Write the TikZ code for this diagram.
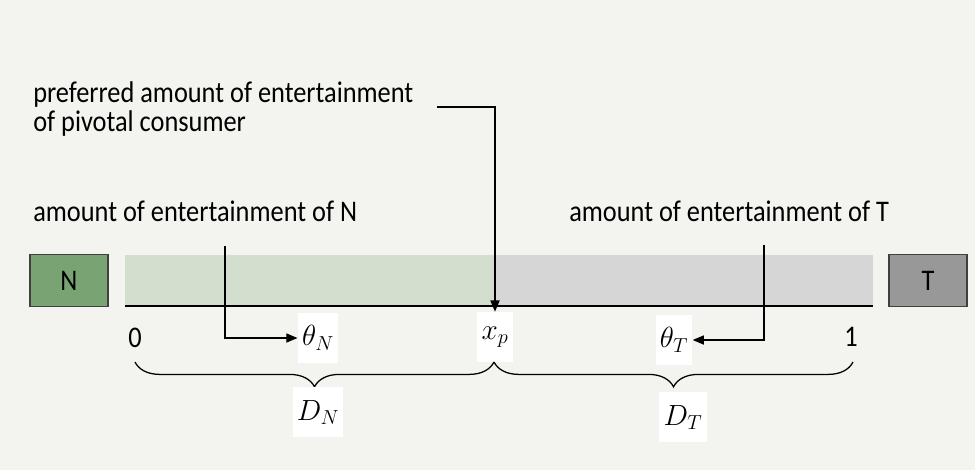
\documentclass[tikz,border=0pt]{standalone}
\usepackage{fontspec}
\setmainfont{Carlito}[FakeStretch=0.88]
\usetikzlibrary{arrows.meta,decorations.pathreplacing}
\definecolor{bgcol}{RGB}{243,243,239}
\definecolor{green1}{RGB}{122,163,115}
\definecolor{green2}{RGB}{211,222,207}
\definecolor{gray1}{RGB}{152,152,152}
\definecolor{gray2}{RGB}{214,214,214}

\begin{document}
\begin{tikzpicture}[x=0.025cm, y=-0.025cm,
  lbl/.style={font=\fontsize{21.3}{20.6}\selectfont, inner sep=0pt},
  sym/.style={font=\fontsize{20}{24}\selectfont, fill=white, inner xsep=3pt, minimum height=1.25cm},
  cbox/.style={draw=black!75, line width=0.8pt, minimum width=1.95cm, minimum height=1.3cm, font=\fontsize{21.3}{24}\selectfont},
  conn/.style={line width=0.9pt, -{Triangle[length=8pt,width=6.5pt]}},
  brc/.style={line width=0.9pt, decorate, decoration={brace, mirror, amplitude=0.62cm}}]
\fill[bgcol] (0,0) rectangle (975,470);
% the line of contents, N at the left end, T at the right end
\fill[green2] (125,255) rectangle (493,306);
\fill[gray2] (493,255) rectangle (873,306);
\draw[line width=1.1pt] (125,306) -- (873,306);
\node[cbox, fill=green1] (Nbox) at (69,280.5) {N};
\node[cbox, fill=gray1] (Tbox) at (928,280.5) {T};
% points on the line
\node[lbl, anchor=base] (zero) at (135,347) {0};
\node[lbl, anchor=base] (one) at (851,346) {1};
\node[sym] (thN) at (318,338) {$\theta_N$};
\node[sym] (xp) at (495,337) {$x_p$};
\node[sym] (thT) at (674,340) {$\theta_T$};
% demands
\coordinate (b0) at (135,362);
\coordinate (bp) at (494,362);
\coordinate (b1) at (853,362);
\draw[brc] (b0) -- (bp);
\draw[brc] (bp) -- (b1);
\node[sym, anchor=north] (DN) at (318,387) {$D_N$};
\node[sym, anchor=north] (DT) at (683,392) {$D_T$};
% explanations
\node[lbl, anchor=base west] (aN) at (33,221) {amount of entertainment of N};
\node[lbl, anchor=base west] (aT) at (569,221) {amount of entertainment of T};
\node[lbl, anchor=base west, align=left] (pv) at (33,131) {preferred amount of entertainment\\of pivotal consumer};
\coordinate (aNend) at (225,246);
\coordinate (aTend) at (764,245);
\coordinate (pvend) at (437,107);
\draw[conn] (aNend) |- (thN);
\draw[conn] (aTend) |- (thT);
\draw[conn] (pvend) -| (xp.north);
\end{tikzpicture}
\end{document}
